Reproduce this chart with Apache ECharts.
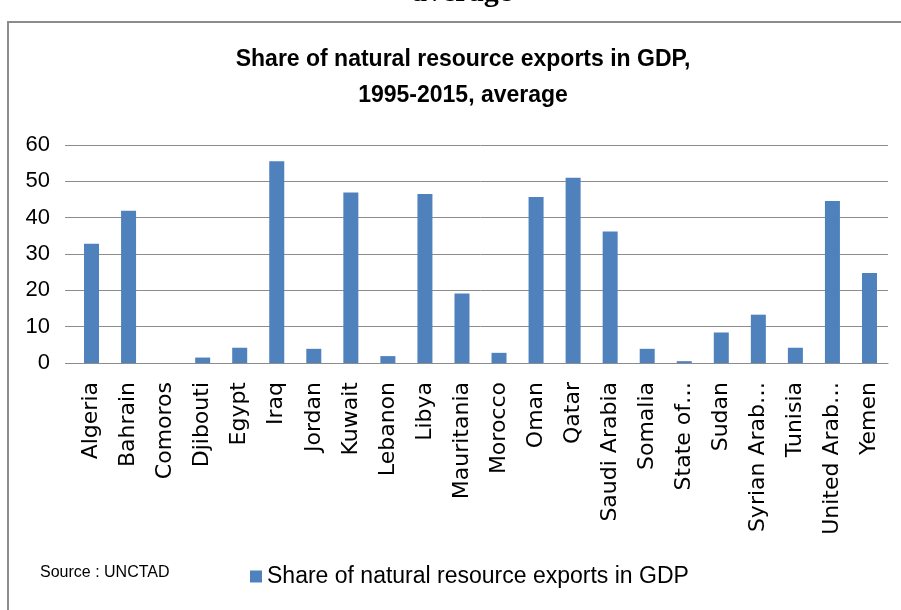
<!DOCTYPE html>
<html><head><meta charset="utf-8">
<script src="https://cdn.jsdelivr.net/npm/echarts@6/dist/echarts.min.js"></script>
<style>html,body{margin:0;padding:0;background:#fff}#c{width:901px;height:610px}</style>
</head><body><div id="c"></div>
<script>
var categories = ["Algeria","Bahrain","Comoros","Djibouti","Egypt","Iraq","Jordan","Kuwait","Lebanon","Libya","Mauritania","Morocco","Oman","Qatar","Saudi Arabia","Somalia","State of…","Sudan","Syrian Arab…","Tunisia","United Arab…","Yemen"];
var shareValues = [32.8,41.9,0,1.5,4.2,55.5,3.9,46.9,1.9,46.5,19.1,2.8,45.7,51.0,36.2,3.9,0.5,8.4,13.3,4.2,44.6,24.8];
var yTicks = {min:0, max:60, interval:10};
var seriesName = "Share of natural resource exports in GDP";
var titleText = "Share of natural resource exports in GDP,\n1995-2015, average";
var sourceText = "Source : UNCTAD";
var topCutText = "average";

var chart = echarts.init(document.getElementById('c'), null, {renderer:'canvas'});
chart.setOption({
  backgroundColor:'#fff',
  animation:false,
  title:{text:titleText,left:458,textAlign:'center',top:37,
    textStyle:{fontFamily:'Liberation Sans',fontWeight:'bold',fontSize:23,lineHeight:36,color:'#000'}},
  graphic:[
    {type:'rect',shape:{x:8,y:22,width:920,height:620},style:{fill:'none',stroke:'#8c8c8c',lineWidth:2},silent:true},
    {type:'text',x:462,y:8,style:{text:topCutText,font:'bold 30px "Liberation Serif"',fill:'#000',textAlign:'center',textVerticalAlign:'bottom'}},
    {type:'text',x:40,y:573,style:{text:sourceText,font:'16px "Liberation Sans"',fill:'#000',textVerticalAlign:'middle'}}
  ],
  legend:{data:[seriesName],left:245,top:560,itemWidth:12,itemHeight:12,itemGap:6,icon:'rect',
    textStyle:{fontFamily:'Liberation Sans',fontSize:23,color:'#000'}},
  grid:{left:73,right:13,top:145,bottom:247,containLabel:false},
  xAxis:{type:'category',data:categories,
    axisLine:{lineStyle:{color:'#8c8c8c',width:1}},
    axisTick:{length:10,lineStyle:{color:'#8c8c8c'}},
    axisLabel:{rotate:90,interval:0,margin:19,fontFamily:'DejaVu Sans',fontSize:22,color:'#000'}},
  yAxis:{type:'value',min:yTicks.min,max:yTicks.max,interval:yTicks.interval,
    axisLine:{show:false},
    axisTick:{show:true,length:8,lineStyle:{color:'#8c8c8c'}},
    splitLine:{lineStyle:{color:'#8c8c8c',width:1}},
    axisLabel:{margin:23,fontFamily:'Liberation Sans',fontSize:22,color:'#000'}},
  series:[{name:seriesName,type:'bar',data:shareValues,barWidth:15,
    itemStyle:{color:'#4f81bd'}}]
});
</script></body></html>
